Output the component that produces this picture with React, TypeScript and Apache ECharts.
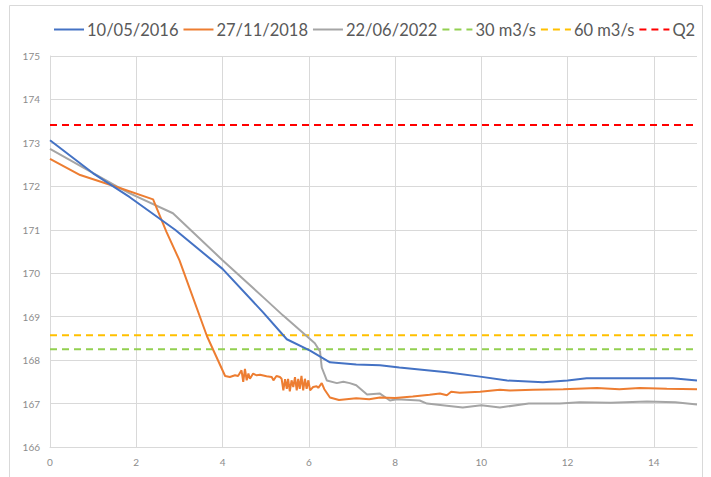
import React, { useEffect, useRef } from "react";
import * as echarts from "echarts";

const seriesNames = ["10/05/2016", "27/11/2018", "22/06/2022", "30 m3/s", "60 m3/s", "Q2"];

const blue2016: [number, number][] = [
  [0, 173.06], [1, 172.3], [1.85, 171.75], [2.9, 171.0], [4, 170.1], [4.94, 169.1],
  [5.49, 168.48], [6.03, 168.22], [6.49, 167.95], [7.1, 167.9], [7.65, 167.88],
  [8.1, 167.83], [9.2, 167.72], [9.97, 167.62], [10.6, 167.53], [11.43, 167.49],
  [12.0, 167.53], [12.44, 167.58], [14.44, 167.58], [15, 167.53],
];

const orange2018: [number, number][] = [
  [0, 172.63], [0.7, 172.26], [1.62, 171.96], [2.39, 171.7], [2.7, 170.95], [3.0, 170.3],
  [3.64, 168.55], [4.06, 167.635], [4.17, 167.61], [4.29, 167.65], [4.36, 167.635],
  [4.44, 167.765], [4.48, 167.5], [4.52, 167.8], [4.56, 167.535], [4.6, 167.69],
  [4.635, 167.57], [4.71, 167.69], [4.79, 167.65], [4.87, 167.665], [5.02, 167.63],
  [5.14, 167.61], [5.18, 167.535], [5.25, 167.635], [5.33, 167.61], [5.37, 167.57],
  [5.41, 167.305], [5.45, 167.56], [5.49, 167.34], [5.52, 167.57], [5.56, 167.28],
  [5.6, 167.535], [5.64, 167.38], [5.68, 167.61], [5.72, 167.305], [5.755, 167.57],
  [5.79, 167.34], [5.83, 167.635], [5.87, 167.305], [5.91, 167.57], [5.95, 167.34],
  [5.99, 167.535], [6.03, 167.305], [6.1, 167.38], [6.18, 167.4], [6.22, 167.36],
  [6.3, 167.47], [6.36, 167.33], [6.49, 167.14], [6.7, 167.08], [7.1, 167.12],
  [7.4, 167.1], [7.65, 167.14], [8.0, 167.13], [8.41, 167.16], [8.8, 167.2],
  [9.04, 167.23], [9.2, 167.19], [9.3, 167.27], [9.5, 167.25], [9.97, 167.27],
  [10.43, 167.32], [10.66, 167.3], [11.2, 167.32], [11.9, 167.33], [12.68, 167.36],
  [13.2, 167.33], [13.67, 167.36], [14.3, 167.34], [15, 167.33],
];

const gray2022: [number, number][] = [
  [0, 172.86], [1.62, 171.96], [1.85, 171.84], [2.85, 171.38], [4.0, 170.3],
  [4.94, 169.45], [5.4, 169.03], [6.14, 168.39], [6.26, 168.2], [6.3, 167.83],
  [6.42, 167.53], [6.65, 167.47], [6.8, 167.5], [6.95, 167.47], [7.1, 167.42],
  [7.35, 167.21], [7.65, 167.23], [7.88, 167.07], [8.04, 167.1], [8.57, 167.07],
  [8.74, 167.0], [9.2, 166.95], [9.57, 166.91], [10.0, 166.96], [10.43, 166.91],
  [11.1, 167.0], [11.82, 167.0], [12.28, 167.03], [13.0, 167.02], [13.84, 167.05],
  [14.5, 167.03], [15, 166.98],
];

const flow30 = 168.25;
const flow60 = 168.57;
const q2 = 173.41;
const xRange = [0, 15];

const colors = ["#4472C4", "#ED7D31", "#A5A5A5", "#92D050", "#FFC000", "#FF0000"];

export default function App() {
  const ref = useRef<HTMLDivElement>(null);
  useEffect(() => {
    if (!ref.current) return;
    const chart = echarts.init(ref.current, undefined, { renderer: "svg" });
    const font = "Lato, 'Open Sans', sans-serif";
    const hline = (v: number) => xRange.map((x) => [x, v]);
    const dataSets = [blue2016, orange2018, gray2022, hline(flow30), hline(flow60), hline(q2)];
    chart.setOption({
      animation: false,
      backgroundColor: "#ffffff",
      color: colors,
      textStyle: { fontFamily: font },
      graphic: [
        {
          type: "rect",
          shape: { x: 9.5, y: 5.5, width: 693, height: 480 },
          style: { fill: "none", stroke: "#D9D9D9", lineWidth: 1 },
          silent: true,
        },
      ],
      legend: {
        top: 16,
        left: 48,
        itemWidth: 30,
        itemHeight: 12,
        itemGap: 4,
        itemStyle: { opacity: 0 },
        lineStyle: { width: 2 },
        textStyle: { fontSize: 16.5, color: "#595959", fontFamily: font, padding: [0, 0, 0, -2] },
        data: seriesNames,
      },
      grid: { left: 50, right: 14, top: 56, bottom: 30 },
      xAxis: {
        type: "value",
        min: 0,
        max: 15,
        interval: 2,
        axisLine: { show: true, lineStyle: { color: "#D9D9D9", width: 1 } },
        axisTick: { show: false },
        axisLabel: { color: "#8C8C8C", fontSize: 10, margin: 10, showMaxLabel: false, fontFamily: font },
        splitLine: { show: true, showMaxLine: false, lineStyle: { color: "#D9D9D9", width: 1 } },
      },
      yAxis: {
        type: "value",
        min: 166,
        max: 175,
        interval: 1,
        axisLine: { show: true, lineStyle: { color: "#D9D9D9", width: 1 } },
        axisTick: { show: false },
        axisLabel: { color: "#8C8C8C", fontSize: 10, margin: 10, fontFamily: font },
        splitLine: { show: true, lineStyle: { color: "#D9D9D9", width: 1 } },
      },
      series: seriesNames.map((name, i) => ({
        name,
        type: "line",
        data: dataSets[i],
        symbol: "none",
        lineStyle: {
          color: colors[i],
          width: 2,
          type: i < 3 ? "solid" : [7, 5],
        },
        itemStyle: { color: colors[i] },
        z: i < 3 ? 5 - i : 1,
      })),
    });
    return () => chart.dispose();
  }, []);
  return (
    <div
      ref={ref}
      style={{ position: "fixed", left: 0, top: 0, width: 711, height: 477 }}
    />
  );
}
